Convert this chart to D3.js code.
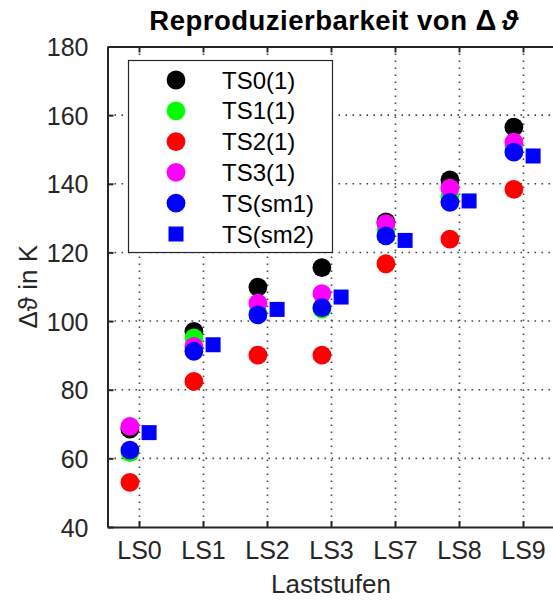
<!DOCTYPE html>
<html>
<head>
<meta charset="utf-8">
<script src="https://cdn.jsdelivr.net/npm/d3@7"></script>
<style>
  body { margin: 0; background: #fff; }
  svg { display: block; font-family: "Liberation Sans", Arial, sans-serif; }
</style>
</head>
<body>
<svg id="chart" width="553" height="601"></svg>
<script>
const categories = ["LS0", "LS1", "LS2", "LS3", "LS7", "LS8", "LS9"];
const yTicks = [40, 60, 80, 100, 120, 140, 160, 180];
const ts0 = [68.5, 97.0, 109.9, 115.6, 128.9, 141.1, 156.5];
const ts1 = [61.7, 95.1, 102.4, 103.5, 126.6, 136.2, 151.0];
const ts2 = [53.0, 82.4, 90.1, 90.1, 116.7, 123.9, 138.4];
const ts3 = [69.3, 92.6, 105.2, 108.0, 128.4, 138.7, 152.1];
const tsSm1 = [62.4, 91.2, 101.8, 103.9, 124.8, 134.6, 149.2];
const tsSm2 = [67.5, 93.1, 103.4, 107.0, 123.5, 135.0, 148.1];

const series = [
  { name: "TS0(1)", values: ts0, color: "#000000", shape: "circle" },
  { name: "TS1(1)", values: ts1, color: "#00ff00", shape: "circle" },
  { name: "TS2(1)", values: ts2, color: "#ff0000", shape: "circle" },
  { name: "TS3(1)", values: ts3, color: "#ff00ff", shape: "circle" },
  { name: "TS(sm1)", values: tsSm1, color: "#0000ff", shape: "circle" },
  { name: "TS(sm2)", values: tsSm2, color: "#0000ff", shape: "square" }
];

const svg = d3.select("#chart");
const pLeft = 107.5, pRight = 555.5, pTop = 46.5, pBottom = 527;
const axisColor = "#262626";

const x = d3.scaleBand().domain(categories).range([pLeft, pRight]).padding(0);
const y = d3.scaleLinear().domain([40, 180]).range([pBottom, pTop]);
const bw = x.bandwidth();
const cx = c => x(c) + bw / 2;

// grid
const grid = svg.append("g");
grid.selectAll("line.h").data(yTicks.slice(1, -1)).enter().append("line")
  .attr("x1", pLeft).attr("x2", pRight)
  .attr("y1", d => y(d)).attr("y2", d => y(d))
  .attr("stroke", "#444").attr("stroke-width", 1.6)
  .attr("stroke-dasharray", "1.6,5.4");
grid.selectAll("line.v").data(categories).enter().append("line")
  .attr("x1", d => cx(d)).attr("x2", d => cx(d))
  .attr("y1", pTop).attr("y2", pBottom)
  .attr("stroke", "#444").attr("stroke-width", 1.6)
  .attr("stroke-dasharray", "1.6,5.4");

// axes (inward ticks)
const yAxis = d3.axisLeft(y).tickValues(yTicks).tickSizeInner(-6).tickSizeOuter(0).tickPadding(19);
const gy = svg.append("g").attr("transform", `translate(${pLeft},0)`).call(yAxis);
const xAxisB = d3.axisBottom(x).tickSizeInner(-6).tickSizeOuter(0).tickPadding(14);
const gx = svg.append("g").attr("transform", `translate(0,${pBottom})`).call(xAxisB);
const xAxisT = d3.axisTop(x).tickSizeInner(-6).tickSizeOuter(0).tickFormat("");
const gxt = svg.append("g").attr("transform", `translate(0,${pTop})`).call(xAxisT);
[gy, gx, gxt].forEach(g => {
  g.select(".domain").attr("stroke", axisColor).attr("stroke-width", 2);
  g.selectAll(".tick line").attr("stroke", axisColor).attr("stroke-width", 2);
  g.selectAll(".tick text").attr("fill", axisColor)
    .style("font-size", "25px").style("font-family", "Liberation Sans, Arial, sans-serif");
});
gy.selectAll(".tick text").attr("dy", "0.36em");
gx.selectAll(".tick text").attr("dy", "0.71em");

// markers
const r = 9.4, sq = 15;
series.forEach(s => {
  const g = svg.append("g");
  if (s.shape === "circle") {
    g.selectAll("circle").data(categories).enter().append("circle")
      .attr("cx", (d) => cx(d) - 0.15 * bw)
      .attr("cy", (d, i) => y(s.values[i]))
      .attr("r", r).attr("fill", s.color);
  } else {
    g.selectAll("rect").data(categories).enter().append("rect")
      .attr("x", (d) => cx(d) + 0.15 * bw - sq / 2)
      .attr("y", (d, i) => y(s.values[i]) - sq / 2)
      .attr("width", sq).attr("height", sq).attr("fill", s.color);
  }
});

// legend
const lg = svg.append("g");
lg.append("rect").attr("x", 128.5).attr("y", 60.5).attr("width", 204).attr("height", 192)
  .attr("fill", "#fff").attr("stroke", axisColor).attr("stroke-width", 1.2);
series.forEach((s, i) => {
  const ly = 80 + i * 30.8;
  if (s.shape === "circle") {
    lg.append("circle").attr("cx", 176).attr("cy", ly).attr("r", r).attr("fill", s.color);
  } else {
    lg.append("rect").attr("x", 176 - sq / 2).attr("y", ly - sq / 2)
      .attr("width", sq).attr("height", sq).attr("fill", s.color);
  }
  lg.append("text").attr("x", 222).attr("y", ly).attr("dy", "0.36em")
    .attr("fill", "#000").style("font-size", "24px").text(s.name);
});

// title and labels
const title = svg.append("text").attr("x", 334).attr("y", 30).attr("text-anchor", "middle")
  .style("font-size", "27.5px").style("font-weight", "bold").style("letter-spacing", "0.5px")
  .attr("fill", "#000");
title.append("tspan").text("Reproduzierbarkeit von ");
title.append("tspan").style("font-size", "29px").text("Δ");
title.append("tspan").attr("dx", 5).style("font-style", "italic").text("ϑ");
svg.append("text").attr("x", 331).attr("y", 593).attr("text-anchor", "middle")
  .style("font-size", "26px").attr("fill", axisColor).text("Laststufen");
svg.append("text").attr("transform", `translate(37,${(pTop + pBottom) / 2}) rotate(-90)`)
  .attr("text-anchor", "middle").style("font-size", "26px").attr("fill", axisColor)
  .text("Δϑ in K");
</script>
</body>
</html>
